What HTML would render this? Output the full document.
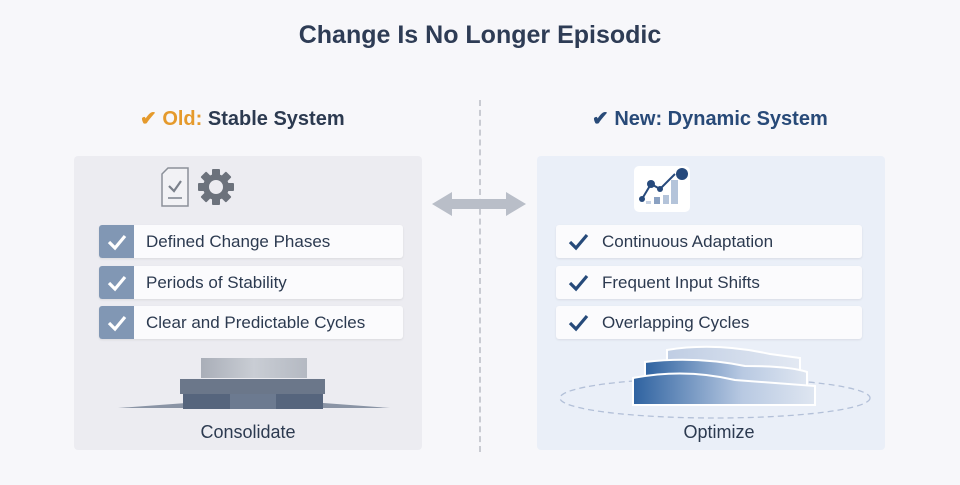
<!DOCTYPE html>
<html><head><style>
*{margin:0;padding:0;box-sizing:border-box}
body{width:960px;height:485px;background:#f7f7fa;font-family:"Liberation Sans",sans-serif;position:relative;overflow:hidden;color:#2c3a50}
.abs{position:absolute}
.title{left:0;width:960px;top:21px;text-align:center;font-size:25px;font-weight:bold;color:#2e3c55}
.sub{top:106px;font-size:20px;font-weight:bold;white-space:nowrap}
.panel{top:156px;width:348px;height:294px;border-radius:4px}
.row{height:33px;background:#fbfbfd;border-radius:3px;box-shadow:0 1px 2px rgba(0,0,0,.08);font-size:17px;line-height:33px;color:#2c3a50;white-space:nowrap}
.lrow{left:99px;width:304px}
.lrow .sq{position:absolute;left:0;top:0;width:35px;height:33px;background:#8197b4;border-radius:3px 0 0 3px}
.lrow span{position:absolute;left:47px}
.rrow{left:556px;width:306px}
.rrow span{position:absolute;left:46px}
.lbl{font-size:18px;text-align:center;color:#2c3a50}
</style></head><body>
<div class="abs title">Change Is No Longer Episodic</div>

<div class="abs sub" style="left:140px"><span style="color:#e59a2c">✔ Old:</span> Stable System</div>
<div class="abs sub" style="left:592px;color:#284a78">✔ New: Dynamic System</div>

<div class="abs" style="left:479px;top:100px;height:352px;border-left:2px dashed #c9cbd2"></div>

<svg class="abs" style="left:430px;top:190px" width="98" height="30"><polygon points="2,14 22,2 22,9 76,9 76,2 96,14 76,26 76,19 22,19 22,26" fill="#b9bec8"/></svg>

<div class="abs panel" style="left:74px;background:#ececf1"></div>
<div class="abs panel" style="left:537px;background:#eaeff8"></div>

<svg class="abs" style="left:158px;top:166px" width="80" height="44">
<path d="M4,8 L10,2 L30,2 L30,40 L4,40 Z" fill="#f2f2f5" stroke="#8b9099" stroke-width="1.5"/>
<path d="M11,20 L16,25 L23,15" fill="none" stroke="#7b818b" stroke-width="2.2"/>
<line x1="10" y1="32" x2="24" y2="32" stroke="#7b818b" stroke-width="1.5"/>
<g transform="translate(58,21)" fill="#6c727c">
<circle r="13"/>
<g><rect x="-4" y="-18" width="8" height="36" rx="1"/><rect x="-4" y="-18" width="8" height="36" rx="1" transform="rotate(45)"/><rect x="-4" y="-18" width="8" height="36" rx="1" transform="rotate(90)"/><rect x="-4" y="-18" width="8" height="36" rx="1" transform="rotate(135)"/></g>
<circle r="7" fill="#ececf1"/>
</g>
</svg>

<svg class="abs" style="left:634px;top:166px" width="58" height="48">
<rect x="0" y="0" width="56" height="46" rx="5" fill="#fff"/>
<rect x="12" y="35" width="5" height="3" fill="#c8d3e4"/><rect x="20" y="31" width="6" height="7" fill="#8aa1c2"/><rect x="29" y="29" width="6" height="9" fill="#b4c4da"/><rect x="37" y="14" width="7" height="24" fill="#b4c4da"/>
<polyline points="8,33 17,18 26,23 41,8" fill="none" stroke="#274a7c" stroke-width="2"/>
<circle cx="8" cy="33" r="3" fill="#274a7c"/><circle cx="17" cy="18" r="4" fill="#274a7c"/><circle cx="26" cy="23" r="3" fill="#274a7c"/><circle cx="48" cy="8" r="6" fill="#274a7c"/>
</svg>

<div class="abs row lrow" style="top:225px"><div class="sq"></div><svg class="abs" style="left:7px;top:7px" width="22" height="20"><path d="M3,10 L9,16 L19,4" fill="none" stroke="#fff" stroke-width="3.2"/></svg><span>Defined Change Phases</span></div>
<div class="abs row lrow" style="top:266px"><div class="sq"></div><svg class="abs" style="left:7px;top:7px" width="22" height="20"><path d="M3,10 L9,16 L19,4" fill="none" stroke="#fff" stroke-width="3.2"/></svg><span>Periods of Stability</span></div>
<div class="abs row lrow" style="top:306px"><div class="sq"></div><svg class="abs" style="left:7px;top:7px" width="22" height="20"><path d="M3,10 L9,16 L19,4" fill="none" stroke="#fff" stroke-width="3.2"/></svg><span>Clear and Predictable Cycles</span></div>

<div class="abs row rrow" style="top:225px"><svg class="abs" style="left:12px;top:7px" width="22" height="20"><path d="M2,10 L8,16 L19,3" fill="none" stroke="#264a7a" stroke-width="3.2"/></svg><span>Continuous Adaptation</span></div>
<div class="abs row rrow" style="top:266px"><svg class="abs" style="left:12px;top:7px" width="22" height="20"><path d="M2,10 L8,16 L19,3" fill="none" stroke="#264a7a" stroke-width="3.2"/></svg><span>Frequent Input Shifts</span></div>
<div class="abs row rrow" style="top:306px"><svg class="abs" style="left:12px;top:7px" width="22" height="20"><path d="M2,10 L8,16 L19,3" fill="none" stroke="#264a7a" stroke-width="3.2"/></svg><span>Overlapping Cycles</span></div>

<svg class="abs" style="left:110px;top:350px" width="290" height="62">
<defs><linearGradient id="g1" x1="0" x2="1"><stop offset="0" stop-color="#a9aeb8"/><stop offset=".5" stop-color="#c9cdd4"/><stop offset="1" stop-color="#b4b9c2"/></linearGradient></defs>
<polygon points="8,58 90,52 200,52 280,58" fill="#8a94a5"/>
<rect x="73" y="43" width="140" height="16" fill="#56657d"/><rect x="120" y="43" width="46" height="16" fill="#6c7a90"/>
<rect x="70" y="29" width="145" height="15" fill="#6b778a"/>
<rect x="91" y="8" width="106" height="20" fill="url(#g1)"/>
</svg>

<svg class="abs" style="left:555px;top:342px" width="320" height="80">
<ellipse cx="160" cy="56" rx="155" ry="20" fill="none" stroke="#b3c0d8" stroke-width="1.3" stroke-dasharray="6,4"/>
<defs><linearGradient id="b1" x1="0" x2="1"><stop offset="0" stop-color="#2e62a0"/><stop offset=".6" stop-color="#b8c9e2"/><stop offset="1" stop-color="#dfe6f1"/></linearGradient>
<linearGradient id="b2" x1="0" x2="1"><stop offset="0" stop-color="#bfcde3"/><stop offset="1" stop-color="#e3e9f3"/></linearGradient></defs>
<path d="M112,8 Q160,0 215,12 L245,16 L245,42 L112,42 Z" fill="url(#b2)" stroke="#fff" stroke-width="2"/>
<path d="M90,20 Q140,14 190,24 Q235,24 252,30 L252,50 L90,50 Z" fill="url(#b1)" stroke="#fff" stroke-width="2"/>
<path d="M78,36 Q130,26 180,38 Q235,42 260,44 L260,63 L78,63 Z" fill="url(#b1)" stroke="#fff" stroke-width="2"/>
</svg>

<div class="abs lbl" style="left:74px;width:348px;top:422px">Consolidate</div>
<div class="abs lbl" style="left:537px;width:364px;top:422px">Optimize</div>
</body></html>
